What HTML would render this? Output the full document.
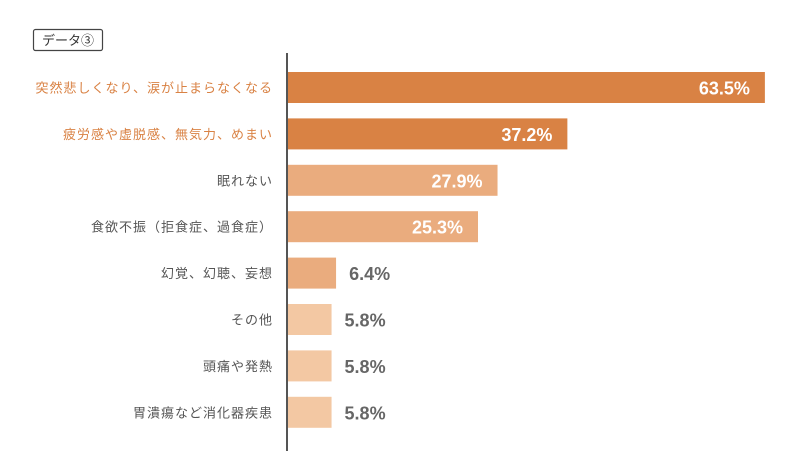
<!DOCTYPE html>
<html><head><meta charset="utf-8"><style>
body{margin:0;background:#fff;}
svg{display:block;}
.lab{font-family:"Liberation Sans","Noto Sans CJK JP",sans-serif;font-size:13px;letter-spacing:1px;}
.val{font-family:"Liberation Sans Narrow","Liberation Sans",sans-serif;font-weight:bold;font-size:18px;}
</style></head><body>
<svg id="chart" width="800" height="473">
<rect x="33.5" y="29.5" width="69" height="21" rx="2" fill="#fff" stroke="#444" stroke-width="1.2"/>
<text x="68" y="45" text-anchor="middle" font-family="'Liberation Sans','Noto Sans CJK JP',sans-serif" font-size="13" fill="#333">データ③</text>
<g id="bars"></g>
<line x1="287" y1="53" x2="287" y2="451" stroke="#555" stroke-width="2"/>
</svg>
<script>
const categories=["突然悲しくなり、涙が止まらなくなる","疲労感や虚脱感、無気力、めまい","眠れない","食欲不振（拒食症、過食症）","幻覚、幻聴、妄想","その他","頭痛や発熱","胃潰瘍など消化器疾患"];
const values=[63.5,37.2,27.9,25.3,6.4,5.8,5.8,5.8];
const valueLabels=["63.5%","37.2%","27.9%","25.3%","6.4%","5.8%","5.8%","5.8%"];
const x0=288, pxPer=7.51, y0=72, pitch=46.4, bh=31;
const xs=v=>x0+v*pxPer;
const ys=i=>y0+i*pitch;
const g=document.getElementById('bars');
const NS="http://www.w3.org/2000/svg";
function colorFor(v){return v>=30?"#d98244":(v>=6?"#eaac7e":"#f3c8a3");}
values.forEach((v,i)=>{
  const r=document.createElementNS(NS,'rect');
  r.setAttribute('x',x0);r.setAttribute('y',ys(i));
  r.setAttribute('width',xs(v)-x0);r.setAttribute('height',bh);
  r.setAttribute('fill',colorFor(v));
  
  
  g.appendChild(r);
  const t=document.createElementNS(NS,'text');
  t.setAttribute('x',273);t.setAttribute('y',ys(i)+bh/2+5);
  t.setAttribute('text-anchor','end');t.setAttribute('class','lab');
  t.setAttribute('fill',v>=30?"#d98244":"#555");
  t.textContent=categories[i];
  
  
  g.appendChild(t);
  const vt=document.createElementNS(NS,'text');
  const inside=v>=20;
  vt.setAttribute('x',inside?xs(v)-15:xs(v)+13);
  vt.setAttribute('y',ys(i)+bh/2+7);
  vt.setAttribute('text-anchor',inside?'end':'start');
  vt.setAttribute('class','val');
  vt.setAttribute('fill',inside?'#fff':'#666');
  vt.textContent=valueLabels[i];
  
  
  g.appendChild(vt);
});
</script>
</body></html>
